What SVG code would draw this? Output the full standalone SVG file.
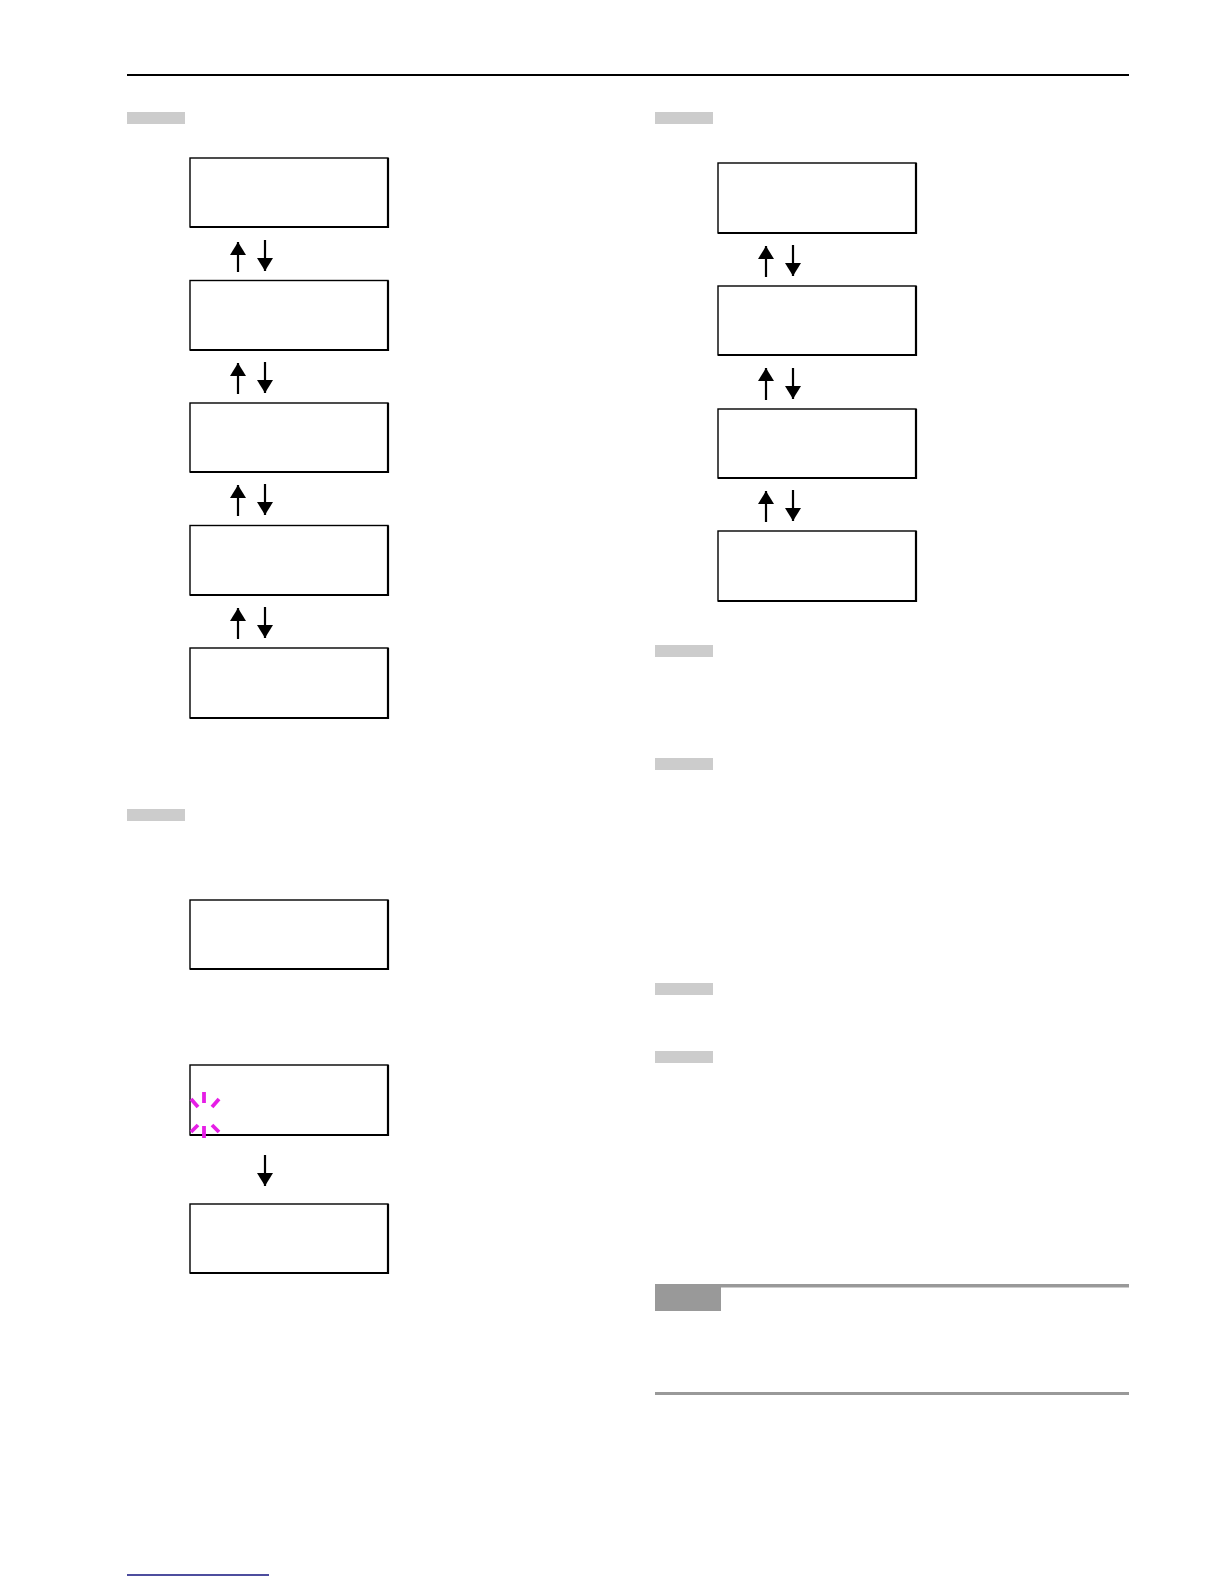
<svg xmlns="http://www.w3.org/2000/svg" width="1224" height="1584" viewBox="0 0 1224 1584">
<defs>
<style>
.box{fill:#fff;stroke:#000;stroke-width:1.4}
.sh{fill:none;stroke:#000;stroke-width:2.2}
.bar{fill:#cccccc}
.arr{stroke:#000;stroke-width:2.2;fill:none;marker-end:url(#ah)}
.cur{stroke:#e61ee6;stroke-width:3.8;stroke-linecap:butt}
</style>
<marker id="ah" markerUnits="userSpaceOnUse" markerWidth="14" markerHeight="16" refX="13" refY="8" orient="auto">
<path d="M0,0 L13,8 L0,16 z" fill="#000"/>
</marker>
</defs>
<rect width="1224" height="1584" fill="#fff"/>
<line x1="127" y1="75" x2="1129" y2="75" stroke="#000" stroke-width="2.2"/>
<g id="bars">
<rect class="bar" x="127" y="112" width="58" height="12"/>
<rect class="bar" x="127" y="809" width="58" height="12"/>
<rect class="bar" x="655" y="112" width="58" height="12"/>
<rect class="bar" x="655" y="645" width="58" height="12"/>
<rect class="bar" x="655" y="758" width="58" height="12"/>
<rect class="bar" x="655" y="983" width="58" height="12"/>
<rect class="bar" x="655" y="1051" width="58" height="12"/>
</g>
<g id="note">
<rect x="655" y="1284" width="474" height="3.5" fill="#999"/>
<rect x="655" y="1284" width="66" height="27" fill="#999"/>
<rect x="655" y="1392" width="474" height="3" fill="#999"/>
</g>
<line x1="127" y1="1575" x2="269" y2="1575" stroke="#12127e" stroke-width="1.4"/>
<g id="L1"><rect class="box" x="190" y="158" width="198" height="69"/><path class="sh" d="M388,158 V227 H190"/></g>
<g id="L2"><rect class="box" x="190" y="280.5" width="198" height="69.5"/><path class="sh" d="M388,280.5 V350 H190"/></g>
<g id="L3"><rect class="box" x="190" y="403" width="198" height="69"/><path class="sh" d="M388,403 V472 H190"/></g>
<g id="L4"><rect class="box" x="190" y="525.5" width="198" height="69.5"/><path class="sh" d="M388,525.5 V595 H190"/></g>
<g id="L5"><rect class="box" x="190" y="648" width="198" height="70"/><path class="sh" d="M388,648 V718 H190"/></g>
<g id="L6"><rect class="box" x="190" y="900" width="198" height="69"/><path class="sh" d="M388,900 V969 H190"/></g>
<g id="L7"><rect class="box" x="190" y="1065" width="198" height="70"/><path class="sh" d="M388,1065 V1135 H190"/></g>
<g id="L8"><rect class="box" x="190" y="1204" width="198" height="69"/><path class="sh" d="M388,1204 V1273 H190"/></g>
<g id="R1"><rect class="box" x="718" y="163" width="198" height="70"/><path class="sh" d="M916,163 V233 H718"/></g>
<g id="R2"><rect class="box" x="718" y="286" width="198" height="69"/><path class="sh" d="M916,286 V355 H718"/></g>
<g id="R3"><rect class="box" x="718" y="409" width="198" height="69"/><path class="sh" d="M916,409 V478 H718"/></g>
<g id="R4"><rect class="box" x="718" y="531" width="198" height="70"/><path class="sh" d="M916,531 V601 H718"/></g>
<g id="cursor">
<line class="cur" x1="204" y1="1092" x2="204" y2="1103"/>
<line class="cur" x1="204" y1="1126" x2="204" y2="1138"/>
<line class="cur" x1="191" y1="1099" x2="198" y2="1107"/>
<line class="cur" x1="212" y1="1107" x2="219" y2="1099"/>
<line class="cur" x1="191" y1="1132" x2="198" y2="1125"/>
<line class="cur" x1="212" y1="1125" x2="219" y2="1132"/>
</g>
<g id="connectors">
<line class="arr" x1="238" y1="272" x2="238" y2="242"/>
<line class="arr" x1="265" y1="240" x2="265" y2="271"/>
<line class="arr" x1="238" y1="394" x2="238" y2="363"/>
<line class="arr" x1="265" y1="362" x2="265" y2="393"/>
<line class="arr" x1="238" y1="516" x2="238" y2="485"/>
<line class="arr" x1="265" y1="484" x2="265" y2="515"/>
<line class="arr" x1="238" y1="639" x2="238" y2="608"/>
<line class="arr" x1="265" y1="607" x2="265" y2="638"/>
<line class="arr" x1="265" y1="1155" x2="265" y2="1186"/>
<line class="arr" x1="766" y1="277" x2="766" y2="246"/>
<line class="arr" x1="793" y1="245" x2="793" y2="276"/>
<line class="arr" x1="766" y1="400" x2="766" y2="368"/>
<line class="arr" x1="793" y1="368" x2="793" y2="399"/>
<line class="arr" x1="766" y1="522" x2="766" y2="491"/>
<line class="arr" x1="793" y1="490" x2="793" y2="521"/>
</g>
</svg>
